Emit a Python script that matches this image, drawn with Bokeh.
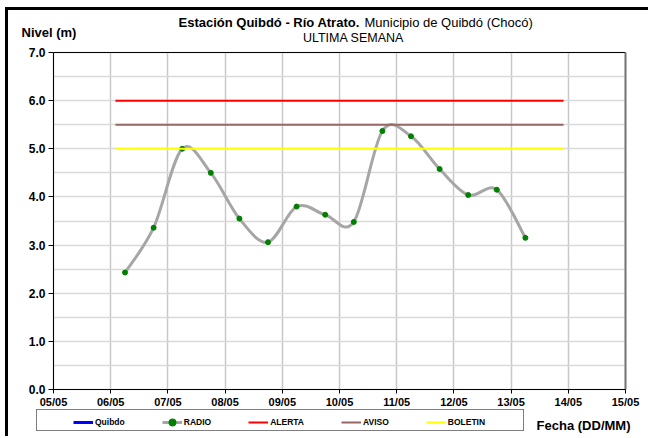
from bokeh.plotting import figure
from bokeh.models import (FixedTicker, Legend, LegendItem, PrintfTickFormatter,
                          Label, Grid)
from bokeh.embed import file_html
from bokeh.resources import INLINE

# ---- data ----
dias = [6.25, 6.75, 7.25, 7.75, 8.25, 8.75, 9.25, 9.75, 10.25, 10.75,
        11.25, 11.75, 12.25, 12.75, 13.25]          # day of May (06/05 06h ... 13/05 06h)
radio = [2.43, 3.36, 5.00, 4.50, 3.55, 3.06, 3.80, 3.63, 3.48, 5.37,
         5.26, 4.58, 4.04, 4.15, 3.15]              # level (m)
quibdo_dias = [float("nan")]                         # Quibdo series: no data in the window
quibdo = [float("nan")]
umbral_dias = [6.083, 13.917]                        # extent of threshold lines
alerta = [6.0, 6.0]
aviso = [5.5, 5.5]
boletin = [5.0, 5.0]
dias_ticks = [5, 6, 7, 8, 9, 10, 11, 12, 13, 14, 15]
etiquetas_x = ["05/05", "06/05", "07/05", "08/05", "09/05", "10/05",
               "11/05", "12/05", "13/05", "14/05", "15/05"]
niveles_ticks = [0, 1, 2, 3, 4, 5, 6, 7]
grid_y = [0, 0.5, 1, 1.5, 2, 2.5, 3, 3.5, 4, 4.5, 5, 5.5, 6, 6.5, 7]
X_MIN, X_MAX = 5, 15
Y_MIN, Y_MAX = 0, 7

FONT = "Liberation Sans"
NB = "\u00a0"

# layout: the whole canvas is the frame; the plotting area (05/05..15/05, 0..7 m)
# is 572 x 337 px placed 45 px from the left and 42 px from the top.
PX_DAY = 572 / 10
PX_M = 337 / 7
FRAME_W, FRAME_H = 640, 426
AX_LEFT, AX_TOP = 45, 42
x_start = X_MIN - AX_LEFT / PX_DAY
y_end = Y_MAX + AX_TOP / PX_M

p = figure(frame_width=FRAME_W, frame_height=FRAME_H,
           x_range=(x_start, x_start + FRAME_W / PX_DAY),
           y_range=(y_end - FRAME_H / PX_M, y_end),
           output_backend="svg", toolbar_location=None,
           min_border_left=0, min_border_right=0,
           min_border_top=0, min_border_bottom=0)
p.title.visible = False
p.background_fill_color = "white"
p.border_fill_color = "white"
p.outline_line_color = None

# axes at fixed positions (take no panel space)
p.xaxis.ticker = FixedTicker(ticks=dias_ticks)
p.xaxis.major_label_overrides = {d: t for d, t in zip(dias_ticks, etiquetas_x)}
p.xaxis.fixed_location = Y_MIN
p.xaxis.bounds = (X_MIN, X_MAX)
p.yaxis.ticker = FixedTicker(ticks=niveles_ticks)
p.yaxis.formatter = PrintfTickFormatter(format="%.1f")
p.yaxis.fixed_location = X_MIN
p.yaxis.bounds = (Y_MIN, Y_MAX)
for ax in (p.xaxis, p.yaxis):
    ax.axis_line_color = "black"
    ax.major_tick_line_color = "black"
    ax.major_tick_in = 0
    ax.minor_tick_line_color = None
    ax.major_label_text_font = FONT
    ax.major_label_text_font_style = "bold"
    ax.major_label_text_color = "black"
p.yaxis.major_label_standoff = 3
p.xaxis.major_label_standoff = 2
p.yaxis.major_tick_out = 5
p.xaxis.major_tick_out = 4
p.yaxis.major_label_text_font_size = "12px"
p.xaxis.major_label_text_font_size = "11px"

# grids limited to the plotting area
has_cb = "cross_bounds" in Grid.properties()
p.xgrid.ticker = FixedTicker(ticks=dias_ticks)
p.ygrid.ticker = FixedTicker(ticks=grid_y)
if has_cb:
    p.xgrid.cross_bounds = (Y_MIN, Y_MAX)
    p.ygrid.cross_bounds = (X_MIN, X_MAX)
    p.xgrid.grid_line_color = "#c8c8c8"
    p.ygrid.grid_line_color = "#d9d9d9"
    p.xgrid.grid_line_width = 1.5
    p.ygrid.grid_line_width = 1.5
    top = Grid(dimension=1, ticker=FixedTicker(ticks=[Y_MAX]), cross_bounds=(X_MIN, X_MAX),
               grid_line_color="black", grid_line_width=1)
    right = Grid(dimension=0, ticker=FixedTicker(ticks=[X_MAX]), cross_bounds=(Y_MIN, Y_MAX),
                 grid_line_color="#777777", grid_line_width=2)
    p.add_layout(top)
    p.add_layout(right)
else:
    p.xgrid.visible = False
    p.ygrid.visible = False
    p.segment(x0=dias_ticks, y0=[Y_MIN] * len(dias_ticks), x1=dias_ticks,
              y1=[Y_MAX] * len(dias_ticks), line_color="#c8c8c8", line_width=1.5)
    p.segment(x0=[X_MIN] * len(grid_y), y0=grid_y, x1=[X_MAX] * len(grid_y), y1=grid_y,
              line_color="#d9d9d9", line_width=1.5)
    p.segment(x0=[X_MIN], y0=[Y_MAX], x1=[X_MAX], y1=[Y_MAX], line_color="black", line_width=1)
    p.segment(x0=[X_MAX], y0=[Y_MIN], x1=[X_MAX], y1=[Y_MAX], line_color="#777777", line_width=2)

# series
r_quibdo = p.line(quibdo_dias, quibdo, line_color="#0000ff", line_width=3)

n = len(dias)
x0, y0, x1, y1, cx0, cy0, cx1, cy1 = [], [], [], [], [], [], [], []
for i in range(n - 1):
    im = max(i - 1, 0)
    ip = min(i + 2, n - 1)
    x0.append(dias[i]); y0.append(radio[i])
    x1.append(dias[i + 1]); y1.append(radio[i + 1])
    cx0.append(dias[i] + (dias[i + 1] - dias[im]) / 6)
    cy0.append(radio[i] + (radio[i + 1] - radio[im]) / 6)
    cx1.append(dias[i + 1] - (dias[ip] - dias[i]) / 6)
    cy1.append(radio[i + 1] - (radio[ip] - radio[i]) / 6)
p.bezier(x0=x0, y0=y0, x1=x1, y1=y1, cx0=cx0, cy0=cy0, cx1=cx1, cy1=cy1,
         line_color="#a6a6a6", line_width=3)
r_radio_line = p.line(quibdo_dias, quibdo, line_color="#a6a6a6", line_width=3)  # legend swatch
r_radio = p.scatter(dias, radio, size=5, fill_color="#008000", line_color="#008000")

r_alerta = p.line(umbral_dias, alerta, line_color="#ff0000", line_width=2)
r_aviso = p.line(umbral_dias, aviso, line_color="#996666", line_width=2)
r_boletin = p.line(umbral_dias, boletin, line_color="#ffff00", line_width=2)

# ---- legend: a framed box with the items on top of it ----
r_dummy = p.line([], [], line_alpha=0)
box = Legend(items=[LegendItem(label=NB, renderers=[r_dummy])],
             location=(28, 5), orientation="horizontal",
             padding=1, spacing=0, margin=0,
             glyph_width=482, glyph_height=18, label_width=0, label_height=18,
             label_standoff=0, label_text_font=FONT, label_text_font_size="8.5px",
             border_line_color="black", border_line_width=1,
             background_fill_color="white", background_fill_alpha=1)
p.add_layout(box)

leg = Legend(items=[LegendItem(label="Quibdo", renderers=[r_quibdo]),
                    LegendItem(label="RADIO", renderers=[r_radio_line, r_radio]),
                    LegendItem(label="ALERTA", renderers=[r_alerta]),
                    LegendItem(label="AVISO", renderers=[r_aviso]),
                    LegendItem(label="BOLETIN", renderers=[r_boletin])],
             location=(65, 5), orientation="horizontal",
             padding=1, spacing=37, margin=0,
             glyph_width=20, glyph_height=18, label_width=0, label_height=18,
             label_standoff=2, label_text_font=FONT, label_text_font_style="bold",
             label_text_font_size="8.5px", label_text_color="black",
             border_line_color=None, background_fill_alpha=0)
p.add_layout(leg)

# ---- texts (screen px from the frame's bottom-left corner) ----
def lab(text, x, y, size, bold=False, align="left"):
    p.add_layout(Label(text=text, x=x, y=y, x_units="screen", y_units="screen",
                       text_font=FONT, text_font_size=size,
                       text_font_style="bold" if bold else "normal",
                       text_align=align, text_baseline="middle", text_color="black"))

lab("Estación Quibdó - Río Atrato.", 170, 414, "13px", bold=True)
lab("Municipio de Quibdó (Chocó)", 356, 414, "13px")
lab("ULTIMA SEMANA", 345, 399, "12.5px", align="center")
lab("Nivel (m)", 13, 404, "13px", bold=True)
lab("Fecha (DD/MM)", 622, 11, "13px", bold=True, align="right")

p.styles = {"border-left": "3px solid black", "border-top": "3px solid black",
            "margin-left": "5px", "margin-top": "7px"}

open("out.html", "w").write(file_html(p, INLINE))
